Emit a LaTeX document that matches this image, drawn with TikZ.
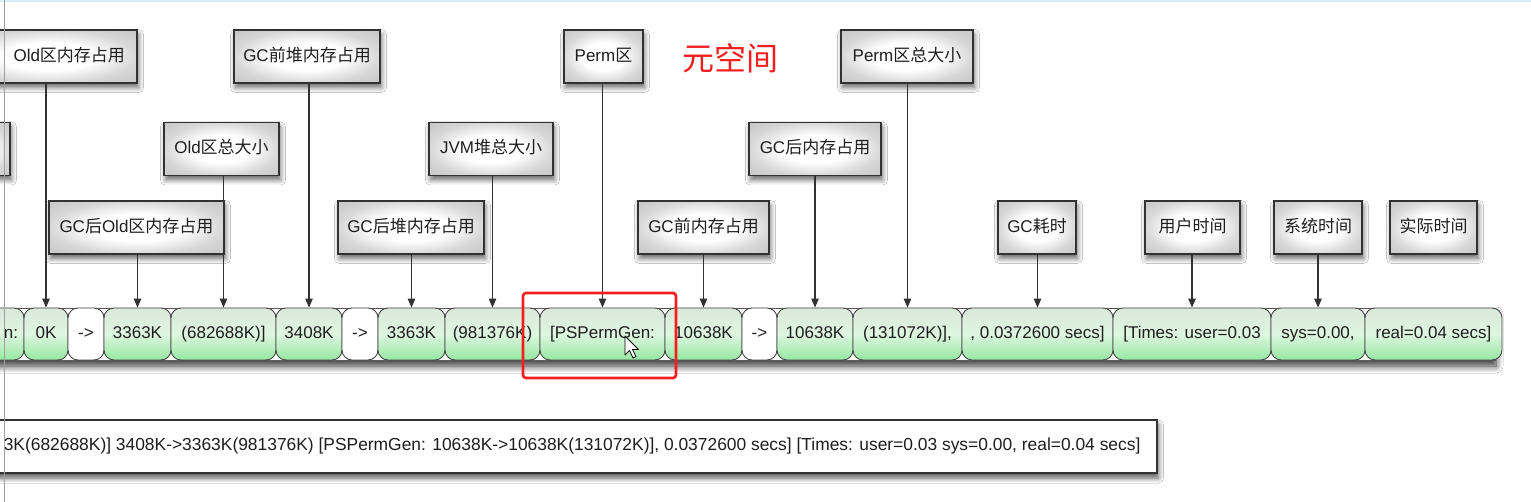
\documentclass[tikz,border=0pt]{standalone}
\usepackage{fontspec}
\setmainfont{Liberation Sans}
\newfontfamily\cjk{Noto Sans CJK SC}
\usetikzlibrary{shadows,shadows.blur,arrows.meta}
\newcommand{\zh}[1]{{\cjk #1}}
\definecolor{bordc}{RGB}{50,50,50}
\definecolor{txtc}{RGB}{30,30,30}
\definecolor{celltop}{RGB}{218,232,218}
\definecolor{cellmid}{RGB}{222,246,224}
\definecolor{cellbot}{RGB}{150,232,162}
\definecolor{redc}{RGB}{245,30,30}
\definecolor{topline}{RGB}{215,238,248}
\definecolor{lblmid}{RGB}{215,215,215}
\definecolor{lblout}{RGB}{175,175,175}
\pgfdeclareradialshading{lblshade}{\pgfpoint{0bp}{0bp}}{color(0bp)=(white); color(13bp)=(white); color(25bp)=(lblmid); color(50bp)=(lblout)}
\begin{document}
\begin{tikzpicture}[x=1pt,y=-1pt,
  lbl/.style={draw=bordc, line width=1.4pt, shading=lblshade,
    minimum height=53pt, inner sep=0pt, text height=13pt, text depth=3.5pt,
    font=\fontsize{17}{20}\selectfont, text=txtc,
    blur shadow={shadow xshift=1.5pt, shadow yshift=-4.5pt, shadow blur radius=5pt, shadow blur steps=8, shadow opacity=60}},
  cell/.style={draw={rgb,255:red,70;green,70;blue,70}, line width=0.9pt, rounded corners=10pt,
    top color=celltop, bottom color=cellbot, middle color=cellmid,
    minimum height=52pt, inner sep=0pt, text height=12.5pt, text depth=3.5pt,
    font=\fontsize{17}{20}\selectfont, text=txtc},
  wcell/.style={cell, top color=white, bottom color=white, middle color=white},
  strip/.style={draw={rgb,255:red,90;green,90;blue,90}, line width=0.9pt, fill=white, inner sep=0pt,
    blur shadow={shadow xshift=1pt, shadow yshift=-6pt, shadow blur radius=7pt, shadow blur steps=10, shadow opacity=80}},
  logbox/.style={draw=bordc, line width=1.4pt, fill=white, inner sep=0pt,
    blur shadow={shadow xshift=1.5pt, shadow yshift=-5pt, shadow blur radius=5pt, shadow blur steps=8, shadow opacity=65}},
  conn/.style={draw={rgb,255:red,50;green,50;blue,50}, line width=1.2pt, -{Triangle[length=9pt,width=7.5pt]}},
  redbox/.style={draw=redc, line width=2.6pt, rounded corners=3pt, inner sep=0pt}
]
\useasboundingbox (0,0) rectangle (1531,502);
\clip (0,0) rectangle (1531,502);
\fill[white] (0,0) rectangle (1531,502);
\draw[topline, line width=2pt] (0,1) -- (1531,1);

% label boxes
\node[lbl, text width=153pt, align=right, inner xsep=12pt] (lOldBefore) at (48.5,56.5) {Old\zh{区内存占用}};
\node[lbl, minimum width=146pt] (lHeapBefore) at (307,56.5) {GC\zh{前堆内存占用}};
\node[lbl, minimum width=79pt] (lPerm) at (603.5,56.5) {Perm\zh{区}};
\node[lbl, minimum width=132pt] (lPermTotal) at (907,56.5) {Perm\zh{区总大小}};
\node[lbl, minimum width=70pt] (lCut) at (-25,149) {};
\node[lbl, minimum width=115pt] (lOldTotal) at (221.5,149) {Old\zh{区总大小}};
\node[lbl, minimum width=124pt] (lHeapTotal) at (491,149) {JVM\zh{堆总大小}};
\node[lbl, minimum width=132pt] (lAfter) at (815,149) {GC\zh{后内存占用}};
\node[lbl, minimum width=175pt] (lOldAfter) at (136.5,227.5) {GC\zh{后}Old\zh{区内存占用}};
\node[lbl, minimum width=146pt] (lHeapAfter) at (411,227.5) {GC\zh{后堆内存占用}};
\node[lbl, minimum width=131pt] (lPermBefore) at (703.5,227.5) {GC\zh{前内存占用}};
\node[lbl, minimum width=78pt] (lTime) at (1037,227.5) {GC\zh{耗时}};
\node[lbl, minimum width=95pt] (lUser) at (1192.5,227.5) {\zh{用户时间}};
\node[lbl, minimum width=88pt] (lSys) at (1318,227.5) {\zh{系统时间}};
\node[lbl, minimum width=87pt] (lReal) at (1433.5,227.5) {\zh{实际时间}};

\node[font=\cjk\fontsize{32}{36}\selectfont, text=redc] (yuan) at (730,58) {元空间};

% strip of cells
\node[strip, minimum width=1540pt, minimum height=52pt] (strip) at (725,334) {};
\node[cell, text width=42pt, align=right, inner xsep=6pt] (c0) at (-3,334) {n:};
\node[cell, minimum width=44pt] (c1) at (46,334) {0K};
\node[wcell, minimum width=36pt] (c2) at (86,334) {->};
\node[cell, minimum width=67pt] (c3) at (137.5,334) {3363K};
\node[cell, minimum width=105pt] (c4) at (223.5,334) {(682688K)]};
\node[cell, minimum width=66pt] (c5) at (309,334) {3408K};
\node[wcell, minimum width=36pt] (c6) at (360,334) {->};
\node[cell, minimum width=67pt] (c7) at (411.5,334) {3363K};
\node[cell, minimum width=95pt] (c8) at (492.5,334) {(981376K)};
\node[cell, minimum width=125pt] (c9) at (602.5,334) {[PSPermGen:};
\node[cell, minimum width=77pt] (c10) at (703.5,334) {10638K};
\node[wcell, minimum width=35pt] (c11) at (759.5,334) {->};
\node[cell, minimum width=76pt] (c12) at (815,334) {10638K};
\node[cell, minimum width=109pt] (c13) at (907.5,334) {(131072K)],};
\node[cell, minimum width=151pt] (c14) at (1037.5,334) {, 0.0372600 secs]};
\node[cell, minimum width=158pt] (c15) at (1192,334) {[Times: user=0.03};
\node[cell, minimum width=94pt] (c16) at (1318,334) {sys=0.00,};
\node[cell, minimum width=137pt] (c17) at (1433.5,334) {real=0.04 secs]};

% connectors
\draw[conn] (c1.north |- lOldBefore.south) -- (c1.north);
\draw[conn] (c3.north |- lOldAfter.south) -- (c3.north);
\draw[conn] (c4.north |- lOldTotal.south) -- (c4.north);
\draw[conn] (c5.north |- lHeapBefore.south) -- (c5.north);
\draw[conn] (c7.north |- lHeapAfter.south) -- (c7.north);
\draw[conn] (c8.north |- lHeapTotal.south) -- (c8.north);
\draw[conn] (c9.north |- lPerm.south) -- (c9.north);
\draw[conn] (c10.north |- lPermBefore.south) -- (c10.north);
\draw[conn] (c12.north |- lAfter.south) -- (c12.north);
\draw[conn] (c13.north |- lPermTotal.south) -- (c13.north);
\draw[conn] (c14.north |- lTime.south) -- (c14.north);
\draw[conn] (c15.north |- lUser.south) -- (c15.north);
\draw[conn] (c16.north |- lSys.south) -- (c16.north);

% highlight and cursor
\node[redbox, minimum width=153pt, minimum height=85pt] (hl) at (599.5,335.5) {};
\draw[fill=white, line width=0.8pt, line join=round] (625,336) -- ++(0,19) -- ++(4.5,-4.5) -- ++(3.5,7.5) -- ++(3,-1.3) -- ++(-3.5,-7.2) -- ++(6,0) -- cycle;

% bottom log line
\node[logbox, minimum width=1177pt, minimum height=53pt] (log) at (568.5,446.5) {};
\node[anchor=east, inner sep=0pt, font=\fontsize{17.4}{20}\selectfont, text=txtc] (logtext) at ([xshift=-17pt]log.east) {3K(682688K)] 3408K->3363K(981376K) [PSPermGen: 10638K->10638K(131072K)], 0.0372600 secs] [Times: user=0.03 sys=0.00, real=0.04 secs]};

\draw[gray!75, line width=1.6pt] (4.5,0) -- (4.5,502);
\end{tikzpicture}
\end{document}
